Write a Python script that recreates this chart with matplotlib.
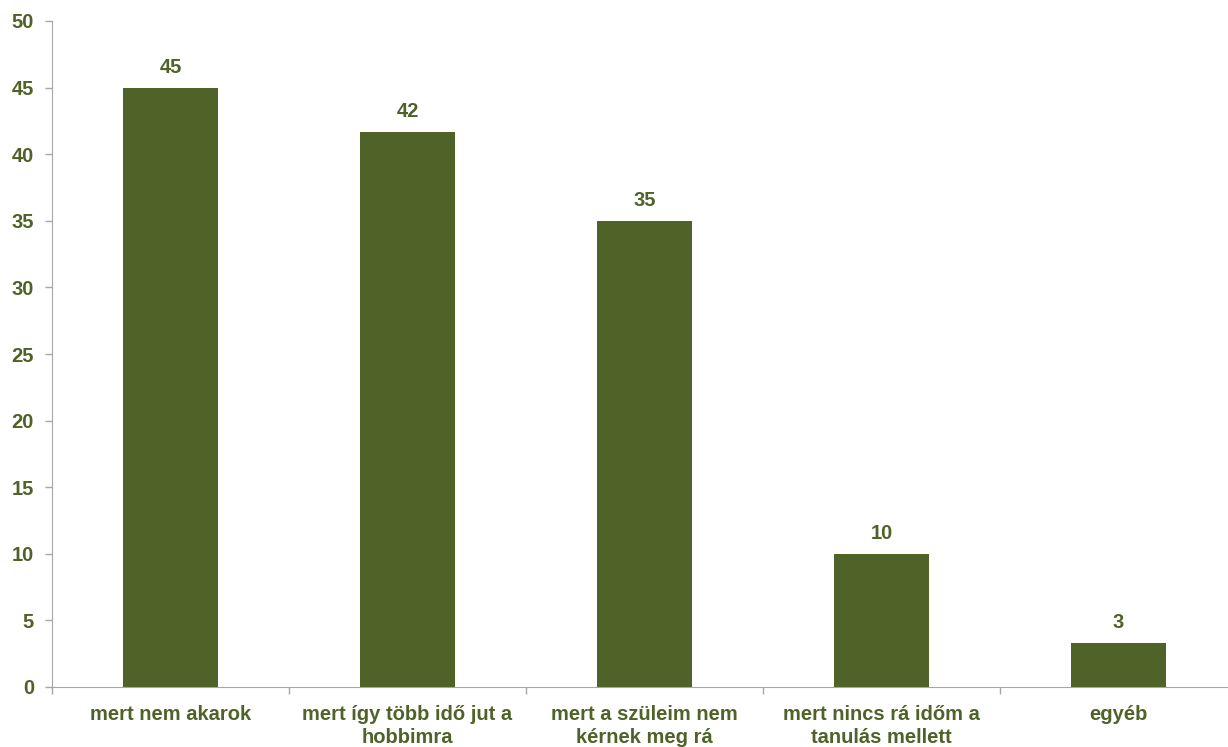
import matplotlib.pyplot as plt
import numpy as np

plt.rcParams['font.family'] = ['Liberation Sans', 'DejaVu Sans']

categories = [
    'mert nem akarok',
    'mert így több idő jut a\nhobbimra',
    'mert a szüleim nem\nkérnek meg rá',
    'mert nincs rá időm a\ntanulás mellett',
    'egyéb',
]
values = [45, 41.7, 35, 10, 3.3]

green = '#4F6228'
grey = '#A6A6A6'

fig = plt.figure(figsize=(12.28, 7.47), dpi=100)
# plot area runs a little past the right edge of the image, as in the original
ax = fig.add_axes([52 / 1228, 60 / 747, 1185 / 1228, 666 / 747])

x = np.arange(len(categories))
bars = ax.bar(x, values, width=0.4, color=green, zorder=2)

for b, v in zip(bars, values):
    ax.text(b.get_x() + b.get_width() / 2, v + 0.8, f'{v:.0f}',
            ha='center', va='bottom', fontsize=14.5, fontweight='bold', color=green)

ax.set_xlim(-0.5, len(categories) - 0.5)
ax.set_ylim(0, 50)
ax.set_yticks(range(0, 51, 5))

# category ticks sit between the bars
ax.set_xticks(np.arange(-0.5, len(categories) + 0.5, 1))
ax.set_xticklabels([])
ax.set_xticks(x, minor=True)
ax.set_xticklabels(categories, minor=True, fontsize=14.5, fontweight='bold',
                   color=green, linespacing=1.25)
ax.tick_params(axis='x', which='minor', length=0, pad=13)
ax.tick_params(axis='x', which='major', length=5, color=grey, width=1)
ax.tick_params(axis='y', length=5, color=grey, width=1, labelsize=14.5,
               labelcolor=green, pad=8)
for lab in ax.get_yticklabels():
    lab.set_fontweight('bold')

for s in ['top', 'right']:
    ax.spines[s].set_visible(False)
ax.spines['left'].set_color(grey)
ax.spines['bottom'].set_color(grey)

fig.savefig('out.png', dpi=100)
